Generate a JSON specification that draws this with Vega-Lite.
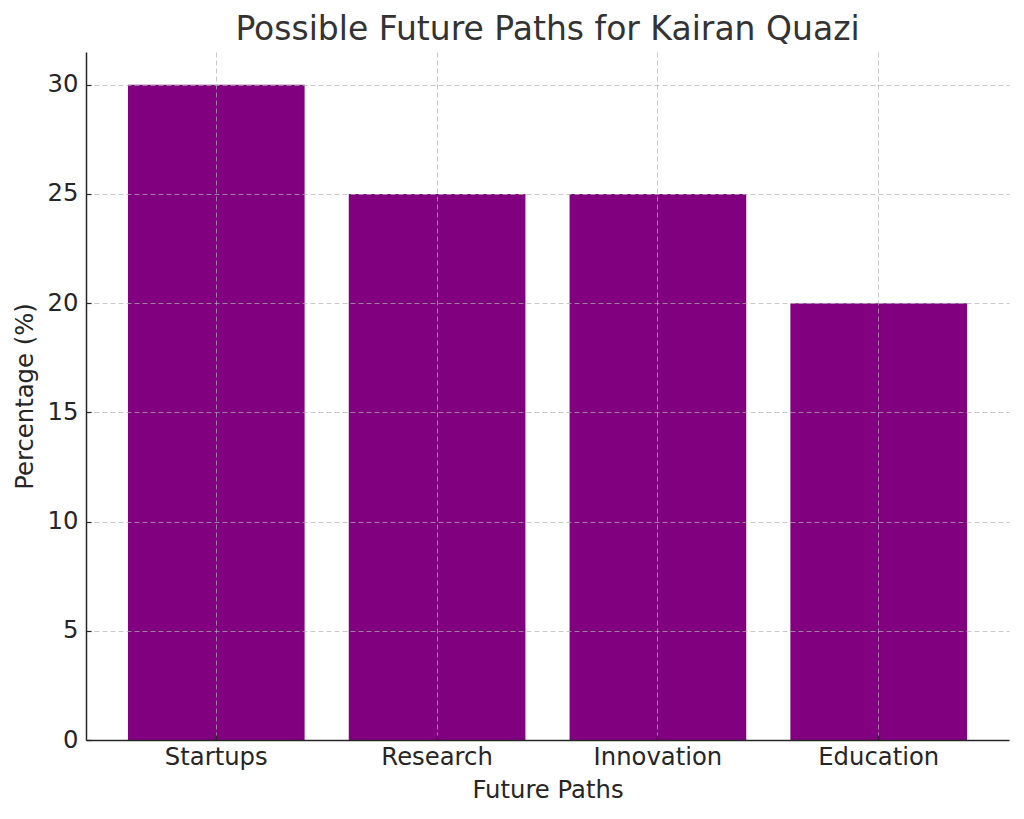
{
  "$schema": "https://vega.github.io/schema/vega-lite/v6.json",
  "width": 923,
  "height": 688,
  "autosize": {"type": "none"},
  "padding": {"left": 86, "top": 52, "right": 15, "bottom": 79},
  "background": "white",
  "title": {
    "text": "Possible Future Paths for Kairan Quazi",
    "font": "DejaVu Sans",
    "fontSize": 33,
    "fontWeight": "normal",
    "color": "#333333",
    "anchor": "middle",
    "baseline": "alphabetic",
    "offset": -21
  },
  "data": {
    "values": [
      {"path": "Startups", "pct": 30},
      {"path": "Research", "pct": 25},
      {"path": "Innovation", "pct": 25},
      {"path": "Education", "pct": 20}
    ]
  },
  "mark": {"type": "bar", "color": "#800080"},
  "encoding": {
    "x": {
      "field": "path",
      "type": "nominal",
      "sort": null,
      "scale": {"paddingInner": 0.2, "paddingOuter": 0.19},
      "axis": {
        "title": "Future Paths",
        "labelAngle": 0,
        "bandPosition": 0.5,
        "grid": true,
        "zindex": 1,
        "tickSize": -5,
        "labelPadding": 10,
        "titlePadding": 9
      }
    },
    "y": {
      "field": "pct",
      "type": "quantitative",
      "scale": {"domain": [0, 31.5], "nice": false},
      "axis": {
        "title": "Percentage (%)",
        "values": [0, 5, 10, 15, 20, 25, 30],
        "grid": true,
        "zindex": 1,
        "tickSize": -5,
        "labelPadding": 13,
        "titlePadding": 10
      }
    }
  },
  "config": {
    "view": {"stroke": null},
    "font": "DejaVu Sans",
    "axis": {
      "labelFont": "DejaVu Sans",
      "titleFont": "DejaVu Sans",
      "labelFontSize": 24.3,
      "titleFontSize": 24.3,
      "titleFontWeight": "normal",
      "labelColor": "#262626",
      "titleColor": "#262626",
      "domainColor": "#262626",
      "domainWidth": 1.5,
      "tickColor": "#262626",
      "tickWidth": 1.2,
      "gridColor": "#b0b0b0",
      "gridOpacity": 0.7,
      "gridWidth": 1,
      "gridDash": [5, 3]
    }
  }
}
